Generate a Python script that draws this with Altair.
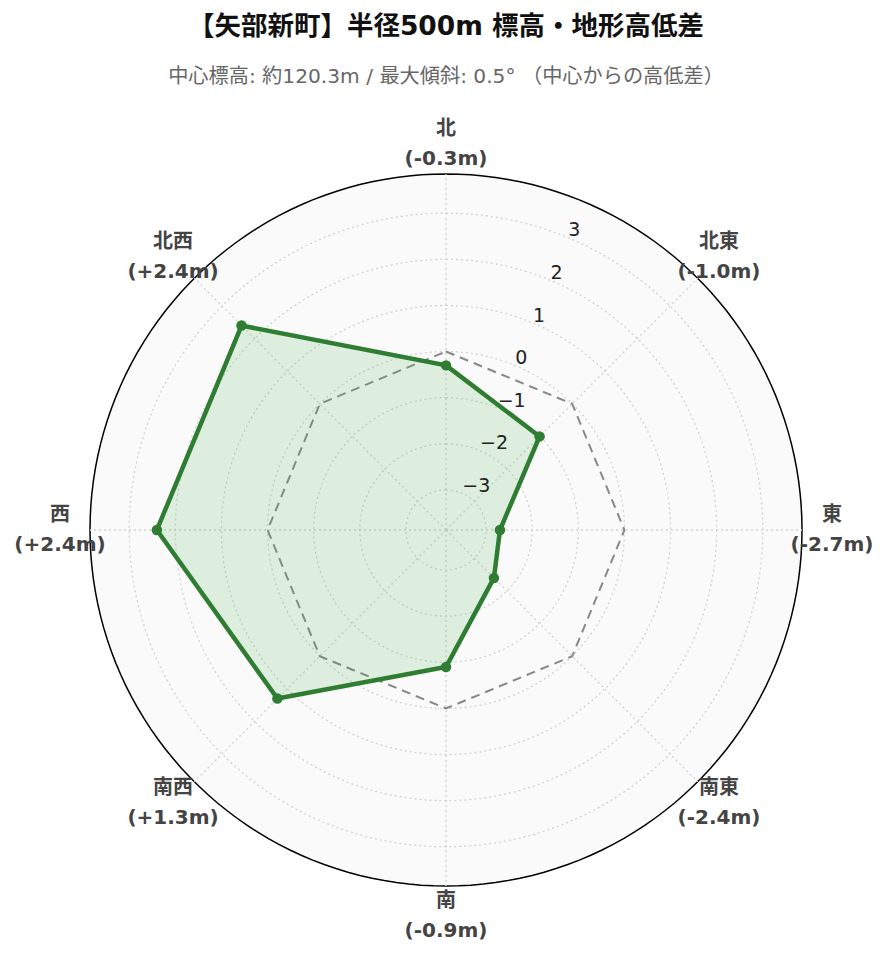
import altair as alt
import pandas as pd

# ---- data ----
directions = ["北", "北東", "東", "南東", "南", "南西", "西", "北西"]
diffs = [-0.3, -1.0, -2.7, -2.4, -0.9, 1.3, 2.4, 2.4]
radial_ticks = [-3, -2, -1, 0, 1, 2, 3]
r_min, r_max = -3.87, 3.85
title_text = "【矢部新町】半径500m 標高・地形高低差"
subtitle_text = "中心標高: 約120.3m / 最大傾斜: 0.5° （中心からの高低差）"

# ---- layout constants ----
SIZE = 760          # plot area (square)
R_PX = 356          # radius of the polar area in px
LABEL_PX = 386      # radius of angular labels in px
span = r_max - r_min
half = span * (SIZE / 2) / R_PX
label_r = span * LABEL_PX / R_PX
FONT = "DejaVu Sans, Noto Sans CJK JP, sans-serif"
GREEN = "#2e7d32"

pts = pd.DataFrame({"dir": directions, "v": diffs, "i": list(range(len(directions)))})
pts["label"] = [f"{d}\n({v:+.1f}m)" for d, v in zip(directions, diffs)]

ticks = pd.DataFrame({"t": radial_ticks})
ticks["txt"] = [str(t).replace("-", "\u2212") for t in radial_ticks]

nseg = 180
rings = pd.DataFrame(
    [(t, k) for t in radial_ticks for k in range(nseg)], columns=["t", "k"]
)
outer = pd.DataFrame({"t": [r_max] * nseg, "k": list(range(nseg))})

xs = alt.Scale(domain=[-half, half], nice=False, zero=False)
ys = alt.Scale(domain=[-half, half], nice=False, zero=False)
X = lambda f: alt.X(f"{f}:Q", scale=xs, axis=None)
Y = lambda f: alt.Y(f"{f}:Q", scale=ys, axis=None)


def ring_xy(ch):
    return ch.transform_calculate(a=f"datum.k * 2 * PI / {nseg}").transform_calculate(
        x=f"(datum.t - ({r_min})) * sin(datum.a)",
        y=f"(datum.t - ({r_min})) * cos(datum.a)",
    )


bg = ring_xy(
    alt.Chart(outer).mark_line(
        interpolate="linear-closed", fill="#fafafa", stroke="black", strokeWidth=1.5
    )
).encode(x=X("x"), y=Y("y"), order="k:Q")

grid = ring_xy(
    alt.Chart(rings).mark_line(
        interpolate="linear-closed", stroke="#d2d2d2", strokeWidth=1.3, strokeDash=[2, 3]
    )
).encode(x=X("x"), y=Y("y"), detail="t:N", order="k:Q")

spokes = (
    alt.Chart(pts)
    .transform_calculate(a="datum.i * PI / 4")
    .transform_calculate(
        x0="0", y0="0",
        x1=f"{span} * sin(datum.a)", y1=f"{span} * cos(datum.a)",
    )
    .mark_rule(stroke="#d2d2d2", strokeWidth=1.3, strokeDash=[2, 3])
    .encode(x=X("x0"), y=Y("y0"), x2="x1:Q", y2="y1:Q")
)

zero_poly = (
    alt.Chart(pts)
    .transform_calculate(a="datum.i * PI / 4")
    .transform_calculate(
        x=f"(0 - ({r_min})) * sin(datum.a)", y=f"(0 - ({r_min})) * cos(datum.a)"
    )
    .mark_line(interpolate="linear-closed", stroke="#888888", strokeWidth=2, strokeDash=[9, 6])
    .encode(x=X("x"), y=Y("y"), order="i:Q")
)

data_base = (
    alt.Chart(pts)
    .transform_calculate(a="datum.i * PI / 4")
    .transform_calculate(
        x=f"(datum.v - ({r_min})) * sin(datum.a)", y=f"(datum.v - ({r_min})) * cos(datum.a)"
    )
)
data_poly = data_base.mark_line(
    interpolate="linear-closed", stroke=GREEN, strokeWidth=4.5,
    fill="#4caf50", fillOpacity=0.16, strokeJoin="miter",
).encode(x=X("x"), y=Y("y"), order="i:Q")

data_pts = data_base.mark_circle(size=110, color=GREEN, opacity=1).encode(x=X("x"), y=Y("y"))

tick_labels = (
    alt.Chart(ticks)
    .transform_calculate(
        x=f"(datum.t - ({r_min})) * sin(PI/8)", y=f"(datum.t - ({r_min})) * cos(PI/8)"
    )
    .mark_text(align="left", baseline="bottom", dx=1, dy=3, fontSize=19, font=FONT, color="#222")
    .encode(x=X("x"), y=Y("y"), text="txt:N")
)

ang_labels = (
    alt.Chart(pts)
    .transform_calculate(a="datum.i * PI / 4")
    .transform_calculate(x=f"{label_r} * sin(datum.a)", y=f"{label_r} * cos(datum.a)")
    .mark_text(
        align="center", baseline="middle", lineBreak="\n", lineHeight=30, dy=-15,
        fontSize=20, fontWeight="bold", font=FONT, color="#444",
    )
    .encode(x=X("x"), y=Y("y"), text="label:N")
)

chart = (
    alt.layer(bg, grid, spokes, zero_poly, data_poly, data_pts, tick_labels, ang_labels)
    .properties(
        width=SIZE, height=SIZE,
        autosize=alt.AutoSizeParams(type="none"),
        padding={"left": 58, "top": 142, "right": 55, "bottom": 50},
        view=alt.ViewBackground(stroke="transparent", strokeWidth=0),
        title=alt.Title(
            text=title_text, subtitle=subtitle_text,
            font=FONT, fontSize=26.5, fontWeight="bold", color="#111",
            subtitleFont=FONT, subtitleFontSize=20.2, subtitleColor="#666",
            anchor="middle", frame="group", offset=32, subtitlePadding=26,
        ),
    )
    .configure_view(stroke="transparent", strokeWidth=0)
    .configure(background="white")
)

chart.save("out.html", embed_options={"renderer": "svg", "actions": False})
